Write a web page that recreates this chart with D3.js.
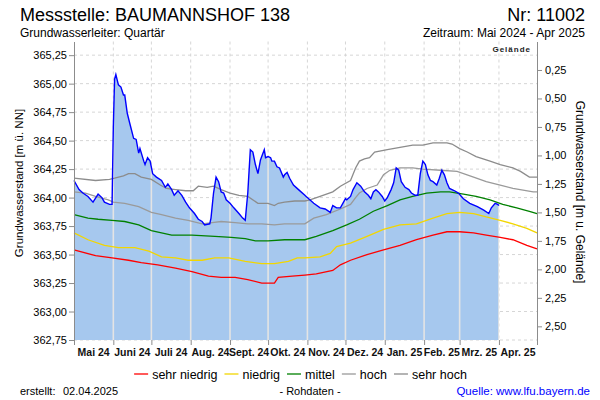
<!DOCTYPE html>
<html><head><meta charset="utf-8">
<script src="https://cdn.jsdelivr.net/npm/d3@7/dist/d3.min.js"></script>
<style>
body{margin:0;background:#fff;}
svg{display:block;font-family:"Liberation Sans",Arial,sans-serif;}
</style></head><body>
<svg id="chart" width="600" height="400"></svg>
<script>
// ---------- data ----------
const periodStart = "2024-05-01";
const periodEnd = "2025-05-01";
const groundLevel = 365.37;      // Gelände [m ü. NN]
const bottomLevel = 362.75;
const monthStarts = ["2024-05-01","2024-06-01","2024-07-01","2024-08-01","2024-09-01","2024-10-01","2024-11-01","2024-12-01","2025-01-01","2025-02-01","2025-03-01","2025-04-01","2025-05-01"];
const monthLabels = ["Mai 24","Juni 24","Juli 24","Aug. 24","Sept. 24","Okt. 24","Nov. 24","Dez. 24","Jan. 25","Feb. 25","Mrz. 25","Apr. 25"];
const leftTicks = [362.75,363.00,363.25,363.50,363.75,364.00,364.25,364.50,364.75,365.00,365.25];
const rightTicks = [0.25,0.50,0.75,1.00,1.25,1.50,1.75,2.00,2.25,2.50];

const levelDates = ["2024-05-01","2024-05-05","2024-05-08","2024-05-12","2024-05-16","2024-05-20","2024-05-23","2024-05-25","2024-05-29","2024-05-31",
"2024-06-01","2024-06-02","2024-06-03","2024-06-05","2024-06-07","2024-06-09","2024-06-10","2024-06-12","2024-06-14","2024-06-17",
"2024-06-19","2024-06-21","2024-06-22","2024-06-25","2024-06-26","2024-06-28","2024-06-30","2024-07-02","2024-07-05","2024-07-09",
"2024-07-12","2024-07-14","2024-07-17","2024-07-19","2024-07-22","2024-07-25","2024-07-28","2024-07-31","2024-08-04","2024-08-07",
"2024-08-10","2024-08-12","2024-08-16","2024-08-17","2024-08-19","2024-08-21","2024-08-23","2024-08-25","2024-08-27","2024-08-29",
"2024-09-01","2024-09-04","2024-09-08","2024-09-11","2024-09-13","2024-09-15","2024-09-17","2024-09-19","2024-09-21","2024-09-23",
"2024-09-25","2024-09-26","2024-09-28","2024-09-29","2024-10-01","2024-10-03","2024-10-04","2024-10-06","2024-10-08","2024-10-10",
"2024-10-13","2024-10-14","2024-10-16","2024-10-18","2024-10-21","2024-10-25","2024-10-30","2024-10-31","2024-11-06","2024-11-11",
"2024-11-15","2024-11-19","2024-11-21","2024-11-24","2024-11-27","2024-12-01","2024-12-02","2024-12-05","2024-12-07","2024-12-10",
"2024-12-13","2024-12-16","2024-12-19","2024-12-21","2024-12-23","2024-12-25","2024-12-27","2024-12-30","2025-01-01","2025-01-03",
"2025-01-06","2025-01-08","2025-01-10","2025-01-12","2025-01-14","2025-01-17","2025-01-20","2025-01-22","2025-01-25","2025-01-27",
"2025-01-29","2025-01-31","2025-02-02","2025-02-04","2025-02-06","2025-02-08","2025-02-11","2025-02-13","2025-02-15","2025-02-17",
"2025-02-19","2025-02-21","2025-02-25","2025-02-28","2025-03-04","2025-03-09","2025-03-15","2025-03-20","2025-03-24","2025-03-26",
"2025-03-29","2025-03-31","2025-04-01"];
const levelValues = [364.15,364.07,364.04,364.01,363.96,364.03,364.00,363.96,363.94,363.94,
364.62,365.04,365.08,364.99,364.97,364.90,364.90,364.74,364.65,364.52,
364.51,364.39,364.43,364.32,364.29,364.35,364.32,364.21,364.18,364.15,
364.09,364.12,364.07,364.02,364.06,364.02,363.96,363.91,363.86,363.81,
363.79,363.76,363.77,363.82,364.04,364.18,364.14,364.05,364.04,363.98,
363.95,363.91,363.86,363.82,363.80,364.04,364.42,364.40,364.29,364.21,
364.33,364.36,364.42,364.35,364.36,364.35,364.32,364.32,364.27,364.26,
364.18,364.20,364.22,364.17,364.11,364.07,364.02,364.01,363.95,363.91,
363.90,363.87,363.93,363.91,363.91,363.99,363.98,364.01,364.07,364.13,
364.10,364.05,364.02,363.99,364.05,364.07,364.05,364.01,363.97,364.00,
364.07,364.13,364.26,364.24,364.14,364.09,364.07,364.04,364.02,364.02,
364.21,364.32,364.29,364.20,364.15,364.14,364.11,364.17,364.24,364.20,
364.13,364.08,364.06,364.04,363.99,363.95,363.92,363.89,363.86,363.91,
363.95,363.94,363.93];

const sehrHochDates = ["2024-05-01","2024-05-18","2024-05-29","2024-06-02","2024-06-09","2024-06-13","2024-06-18","2024-06-23","2024-07-01","2024-07-08",
"2024-07-13","2024-07-20","2024-07-28","2024-08-03","2024-08-07","2024-08-14","2024-08-19","2024-08-25","2024-09-01","2024-09-08",
"2024-09-15","2024-09-23","2024-10-01","2024-10-06","2024-10-09","2024-10-14","2024-10-22","2024-10-30","2024-11-03","2024-11-11",
"2024-11-21","2024-11-27","2024-12-05","2024-12-09","2024-12-12","2024-12-16","2024-12-20","2024-12-24","2025-01-03","2025-01-13",
"2025-01-23","2025-01-31","2025-02-08","2025-02-19","2025-02-23","2025-03-01","2025-03-07","2025-03-14","2025-03-25","2025-04-02",
"2025-04-12","2025-04-18","2025-04-25","2025-05-01"];
const sehrHochValues = [364.17,364.15,364.16,364.17,364.19,364.21,364.21,364.18,364.16,364.11,
364.08,364.07,364.06,364.06,364.10,364.09,364.10,364.07,364.04,364.02,
364.01,363.95,363.95,363.93,363.95,363.96,363.97,363.97,363.98,364.01,
364.05,364.10,364.15,364.26,364.32,364.34,364.35,364.40,364.42,364.44,
364.46,364.46,364.48,364.48,364.47,364.43,364.40,364.36,364.32,364.29,
364.26,364.23,364.18,364.18];

const hochDates = ["2024-05-01","2024-05-10","2024-05-18","2024-05-28","2024-06-01","2024-06-10","2024-06-21","2024-07-01","2024-07-09","2024-07-20",
"2024-07-30","2024-08-10","2024-08-18","2024-08-25","2024-09-05","2024-09-15","2024-09-26","2024-10-06","2024-10-14","2024-10-30",
"2024-11-06","2024-11-16","2024-11-27","2024-12-05","2024-12-09","2024-12-12","2024-12-18","2024-12-26","2024-12-31","2025-01-05",
"2025-01-13","2025-01-23","2025-01-31","2025-02-14","2025-02-27","2025-03-12","2025-03-22","2025-04-02","2025-04-12","2025-04-28","2025-05-01"];
const hochValues = [364.05,364.04,364.01,363.98,363.96,363.95,363.92,363.87,363.85,363.82,
363.80,363.77,363.78,363.79,363.78,363.77,363.77,363.76,363.77,363.77,
363.82,363.85,363.90,363.94,364.00,364.04,364.08,364.11,364.20,364.24,
364.26,364.26,364.25,364.24,364.23,364.18,364.14,364.11,364.08,364.05,364.05];

const mittelDates = ["2024-05-01","2024-05-12","2024-05-20","2024-05-31","2024-06-10","2024-06-21","2024-07-01","2024-07-09","2024-07-17","2024-08-02",
"2024-08-20","2024-09-02","2024-09-13","2024-09-21","2024-10-01","2024-10-14","2024-10-30","2024-11-08","2024-11-21","2024-12-02",
"2024-12-12","2024-12-23","2025-01-03","2025-01-13","2025-01-23","2025-02-03","2025-02-14","2025-02-21","2025-03-04","2025-03-14",
"2025-03-25","2025-04-04","2025-04-15","2025-04-25","2025-05-01"];
const mittelValues = [363.85,363.82,363.81,363.80,363.79,363.76,363.71,363.69,363.67,363.67,
363.66,363.65,363.64,363.62,363.62,363.63,363.63,363.66,363.71,363.76,
363.81,363.88,363.93,363.98,364.01,364.04,364.05,364.05,364.03,364.01,
363.98,363.94,363.91,363.88,363.86];

const niedrigDates = ["2024-05-01","2024-05-12","2024-05-25","2024-06-05","2024-06-18","2024-06-29","2024-07-09","2024-07-20","2024-07-30","2024-08-10",
"2024-08-20","2024-08-31","2024-09-13","2024-09-26","2024-10-06","2024-10-17","2024-10-24","2024-10-30","2024-11-11","2024-11-19",
"2024-11-24","2024-12-05","2024-12-18","2024-12-31","2025-01-13","2025-01-26","2025-02-08","2025-02-19","2025-03-01","2025-03-12",
"2025-03-22","2025-04-02","2025-04-12","2025-04-23","2025-05-01"];
const niedrigValues = [363.69,363.63,363.58,363.56,363.56,363.53,363.48,363.47,363.45,363.45,
363.47,363.47,363.44,363.42,363.42,363.44,363.47,363.47,363.48,363.51,
363.57,363.60,363.66,363.72,363.76,363.77,363.82,363.86,363.87,363.86,
363.83,363.80,363.77,363.73,363.69];

const sehrNiedrigDates = ["2024-05-01","2024-05-18","2024-05-31","2024-06-13","2024-06-23","2024-07-06","2024-07-20","2024-08-02","2024-08-15","2024-08-25",
"2024-09-05","2024-09-15","2024-09-26","2024-10-06","2024-10-09","2024-10-20","2024-10-30","2024-11-08","2024-11-21","2024-11-27",
"2024-12-05","2024-12-18","2024-12-31","2025-01-13","2025-01-26","2025-02-08","2025-02-19","2025-03-01","2025-03-12","2025-03-22",
"2025-04-02","2025-04-12","2025-04-23","2025-05-01"];
const sehrNiedrigValues = [363.54,363.49,363.47,363.45,363.43,363.41,363.38,363.35,363.31,363.30,
363.30,363.28,363.25,363.25,363.30,363.31,363.32,363.33,363.36,363.41,
363.45,363.50,363.54,363.58,363.63,363.67,363.70,363.70,363.69,363.67,
363.65,363.63,363.58,363.55];

const legendNames = ["sehr niedrig","niedrig","mittel","hoch","sehr hoch"];

// ---------- drawing ----------
const svg = d3.select("#chart");
const P = {left:74, right:537, top:41.5, bottom:340};
const parse = d3.utcParse("%Y-%m-%d");
const x = d3.scaleUtc().domain([parse(periodStart), parse(periodEnd)]).range([P.left, P.right]);
const y = d3.scaleLinear().domain([bottomLevel, groundLevel]).range([P.bottom, P.top]);
const yDepth = d3.scaleLinear().domain([0, groundLevel - bottomLevel]).range([P.top, P.bottom]);
const loc = d3.formatLocale({decimal:",", thousands:".", grouping:[3], currency:["","€"]});
const f2 = loc.format(".2f");

const toPts = (ds, vs) => ds.map((d,i)=>({date:parse(d), v:vs[i]}));
const level = toPts(levelDates, levelValues);
const refs = [
  {name:legendNames[0], pts:toPts(sehrNiedrigDates, sehrNiedrigValues), color:"#ff0000"},
  {name:legendNames[1], pts:toPts(niedrigDates, niedrigValues), color:"#f2d600"},
  {name:legendNames[2], pts:toPts(mittelDates, mittelValues), color:"#008000"},
  {name:legendNames[3], pts:toPts(hochDates, hochValues), color:"#9a9a9a"},
  {name:legendNames[4], pts:toPts(sehrHochDates, sehrHochValues), color:"#8c8c8c"}
];

// titles
svg.append("text").attr("x",20).attr("y",21).attr("font-size",18).text("Messstelle: BAUMANNSHOF 138");
svg.append("text").attr("x",585).attr("y",21).attr("font-size",18).attr("text-anchor","end").text("Nr: 11002");
svg.append("text").attr("x",20).attr("y",37).attr("font-size",12).text("Grundwasserleiter: Quartär");
svg.append("text").attr("x",585).attr("y",37).attr("font-size",12).attr("text-anchor","end").text("Zeitraum: Mai 2024 - Apr 2025");

// grid
const grid = svg.append("g");
grid.selectAll("line.h").data(leftTicks).join("line")
  .attr("x1",P.left).attr("x2",P.right).attr("y1",d=>y(d)).attr("y2",d=>y(d))
  .attr("stroke","#d6d6d6").attr("stroke-dasharray","3,3");
const innerMonths = monthStarts.slice(1, -1).map(parse);
grid.selectAll("line.v").data(innerMonths).join("line")
  .attr("x1",d=>x(d)).attr("x2",d=>x(d)).attr("y1",P.top).attr("y2",P.bottom)
  .attr("stroke","#d6d6d6").attr("stroke-dasharray","3,3");

// area
const area = d3.area().x(d=>x(d.date)).y0(y(bottomLevel)).y1(d=>y(d.v));
svg.append("clipPath").attr("id","areaClip").append("path").attr("d", area(level));
svg.append("path").attr("d", area(level)).attr("fill","#a6c8ee");
svg.append("g").attr("clip-path","url(#areaClip)")
  .selectAll("line").data(innerMonths).join("line")
  .attr("x1",d=>x(d)).attr("x2",d=>x(d)).attr("y1",P.top).attr("y2",P.bottom)
  .attr("stroke","#e4e4e4").attr("stroke-width",1.6);

// reference lines
const line = d3.line().x(d=>x(d.date)).y(d=>y(d.v));
svg.append("g").selectAll("path").data(refs).join("path")
  .attr("d",d=>line(d.pts)).attr("fill","none").attr("stroke",d=>d.color).attr("stroke-width",1.3);

// level line
svg.append("path").attr("d", line(level)).attr("fill","none").attr("stroke","#0000ff").attr("stroke-width",1.4);

// axes
const axL = svg.append("g").attr("transform",`translate(${P.left},0)`)
  .call(d3.axisLeft(y).tickValues(leftTicks).tickFormat(f2).tickSize(5).tickSizeOuter(0));
const axR = svg.append("g").attr("transform",`translate(${P.right},0)`)
  .call(d3.axisRight(yDepth).tickValues(rightTicks).tickFormat(f2).tickSize(5).tickSizeOuter(0));
const axB = svg.append("g").attr("transform",`translate(0,${P.bottom})`)
  .call(d3.axisBottom(x).tickValues(monthStarts.map(parse)).tickFormat("").tickSize(5).tickSizeOuter(0));
axB.select(".domain").remove();
[axL, axR, axB].forEach(a=>{
  a.selectAll(".domain").attr("stroke","#8c8c8c");
  a.selectAll(".tick line").attr("stroke","#8c8c8c");
  a.selectAll("text").attr("font-family","Liberation Sans, Arial, sans-serif").attr("font-size",11).attr("fill","#000");
});
axL.selectAll("text").attr("x",-7);
axR.selectAll("text").attr("x",8);

// month labels
const mids = monthLabels.map((m,i)=>({label:m, t:new Date((parse(monthStarts[i]).getTime()+parse(monthStarts[i+1]).getTime())/2)}));
svg.append("g").selectAll("text").data(mids).join("text")
  .attr("x",d=>x(d.t)).attr("y",356).attr("text-anchor","middle")
  .attr("font-size",10.5).attr("font-weight","bold").attr("fill","#111").text(d=>d.label);

// Gelände label
svg.append("text").attr("x",531).attr("y",52).attr("text-anchor","end").attr("font-size",8)
  .attr("font-weight","bold").attr("letter-spacing",1).attr("fill","#222").text("Gelände");

// axis titles
svg.append("text").attr("transform",`translate(23,183) rotate(-90)`)
  .attr("text-anchor","middle").attr("font-size",11.5).text("Grundwasserstand [m ü. NN]");
svg.append("text").attr("transform",`translate(576,192) rotate(90)`)
  .attr("text-anchor","middle").attr("font-size",12).text("Grundwasserstand [m u. Gelände]");

// legend
const lg = svg.append("g");
let cx = 0;
refs.forEach(r=>{
  const g = lg.append("g");
  g.append("line").attr("x1",cx).attr("x2",cx+14).attr("y1",374).attr("y2",374).attr("stroke",r.color).attr("stroke-width",1.3);
  const t = g.append("text").attr("x",cx+18).attr("y",378.5).attr("font-size",12.5).text(r.name);
  cx += 18 + t.node().getComputedTextLength() + 7;
});
const total = cx - 7;
lg.attr("transform",`translate(${300.5 - total/2},0)`);

// footer
svg.append("text").attr("x",20).attr("y",395).attr("font-size",11).text("erstellt:");
svg.append("text").attr("x",63).attr("y",395).attr("font-size",11).text("02.04.2025");
svg.append("text").attr("x",310).attr("y",395).attr("font-size",11).attr("text-anchor","middle").text("- Rohdaten -");
svg.append("text").attr("x",590).attr("y",395).attr("font-size",11.5).attr("text-anchor","end").attr("fill","#0000ff").text("Quelle: www.lfu.bayern.de");
</script>
</body></html>
